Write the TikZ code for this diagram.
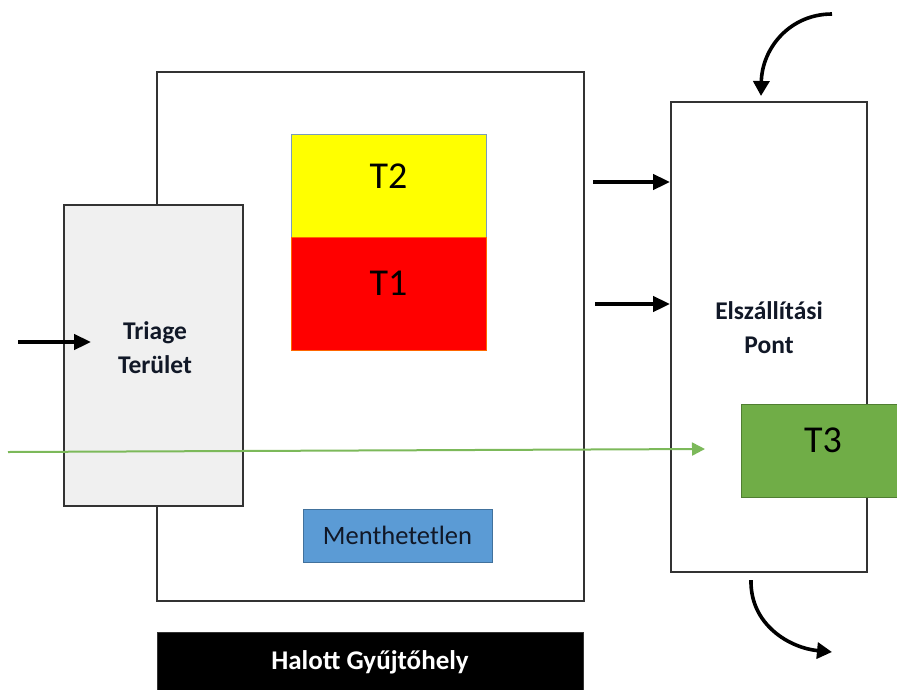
\documentclass[tikz,border=0pt]{standalone}
\usepackage{fontspec}
\setmainfont{Carlito}
\usetikzlibrary{arrows.meta}
\definecolor{frame}{HTML}{333333}
\definecolor{triagefill}{HTML}{F0F0F0}
\definecolor{tyellow}{HTML}{FFFF00}
\definecolor{tred}{HTML}{FF0000}
\definecolor{tgreen}{HTML}{70AD47}
\definecolor{tgreenedge}{HTML}{507E32}
\definecolor{tblue}{HTML}{5B9BD5}
\definecolor{tblueedge}{HTML}{41719C}
\definecolor{flowgreen}{HTML}{7CB95A}
\definecolor{inktext}{HTML}{111827}
\tikzset{
  areabox/.style={draw=frame, line width=1.8pt, inner sep=0pt, rectangle},
  zonebox/.style={rectangle, inner sep=0pt, line width=1pt},
  biglabel/.style={font=\fontsize{38}{38}\selectfont, text=black, inner sep=0pt},
  boldlabel/.style={font=\bfseries\fontsize{25.5}{34}\selectfont, text=inktext, align=center, inner sep=0pt},
  straightflow/.style={line width=4pt, -{Triangle[length=17pt,width=15pt]}},
  curvedflow/.style={line width=3.6pt, -{Triangle[length=15pt,width=16pt]}},
}
\begin{document}
\begin{tikzpicture}[x=1pt,y=-1pt]
\useasboundingbox (0,0) rectangle (897,689);

% collecting area and its zones
\node[areabox, minimum width=427, minimum height=529] (main) at (370.5,336.5) {};
\node[zonebox, draw=tblueedge!70, fill=tyellow, minimum width=195, minimum height=103] (t2) at (388.5,185.5) {};
\node[zonebox, draw=orange!80!red, fill=tred, minimum width=195, minimum height=113] (t1) at (388.5,293.5) {};
\node[biglabel] (t2text) at ([yshift=9]t2.center) {T2};
\node[biglabel] (t1text) at ([yshift=10]t1.center) {T1};
\node[zonebox, draw=tblueedge, fill=tblue, minimum width=189, minimum height=53,
      font=\fontsize{26.5}{26.5}\selectfont, text=inktext] (ment) at (397.5,535.5) {Menthetetlen};

% triage area on the left
\node[areabox, fill=triagefill, minimum width=179, minimum height=301] (triage) at (153.5,355.5) {};
\node[boldlabel] (triagetext) at (155,348) {Triage\\Terület};

% transport point on the right
\node[areabox, fill=white, minimum width=196, minimum height=470] (elsz) at (769,337) {};
\node[boldlabel] (elsztext) at (769,328) {Elszállítási\\Pont};
\node[zonebox, draw=tgreenedge, fill=tgreen, minimum width=164, minimum height=93] (t3) at (823,450.5) {};
\node[biglabel] (t3text) at ([yshift=10]t3.center) {T3};

% dead collection bar
\node[rectangle, fill=black, draw=frame, inner sep=0pt, minimum width=426, minimum height=60,
      font=\bfseries\fontsize{27}{27}\selectfont, text=white] (halott) at (370,662) {Halott Gyűjtőhely};

% arrows
\coordinate (inL) at (18,342);
\coordinate (inT2) at (593,182);
\coordinate (inT1) at (595,304);
\coordinate (topStart) at (832,14);
\coordinate (topEnd) at (761,96);
\coordinate (botStart) at (751,580);
\coordinate (botEnd) at (832,652);
\coordinate (greenStart) at (8,452);
\coordinate (greenEnd) at (705,449);

\draw[straightflow] (inL) -- (inL -| triage.west) -- ++(28,0);
\draw[straightflow] (inT2) -- (inT2 -| elsz.west);
\draw[straightflow] (inT1) -- (inT1 -| elsz.west);
\draw[curvedflow] (topStart) .. controls (790,14) and (762,48) .. (topEnd);
\draw[curvedflow] (botStart) .. controls (750,625) and (790,648) .. (botEnd);
\draw[flowgreen, line width=2pt, -{Triangle[length=13pt,width=13pt]}] (greenStart) -- (greenEnd);
\end{tikzpicture}
\end{document}
